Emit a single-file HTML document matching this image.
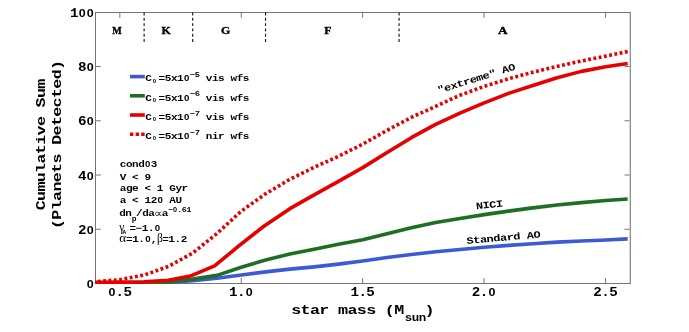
<!DOCTYPE html>
<html><head><meta charset="utf-8"><title>plot</title>
<style>
html,body{margin:0;padding:0;background:#fff;}
svg{display:block;will-change:transform;}
text{font-family:"Liberation Mono",monospace;font-weight:bold;fill:#000;}
.s{font-family:"Liberation Serif",serif;font-weight:normal;}
.sb{font-family:"Liberation Serif",serif;font-weight:bold;}
.z{font-family:"Liberation Sans",sans-serif;font-weight:bold;}
</style></head><body>
<svg width="689" height="332" viewBox="0 0 689 332">
<rect width="689" height="332" fill="#fff"/>
<defs><clipPath id="c"><rect x="95" y="12" width="540" height="271.9"/></clipPath></defs>

<g stroke="#767676" stroke-width="1" fill="none">
<path d="M95.5,12V284M95,12.5H630.7M95,283.5H630.7"/><path d="M630.22,12V284" stroke="#6a6a6a"/>
<path d="M119.85,283V278M119.85,13V17.8"/>
<path d="M241.25,283V278M241.25,13V17.8"/>
<path d="M362.65,283V278M362.65,13V17.8"/>
<path d="M484.05,283V278M484.05,13V17.8"/>
<path d="M605.45,283V278M605.45,13V17.8"/>
<path d="M96,229.25H100.8M629.5,229.25H624.5"/>
<path d="M96,175.00H100.8M629.5,175.00H624.5"/>
<path d="M96,120.75H100.8M629.5,120.75H624.5"/>
<path d="M96,66.50H100.8M629.5,66.50H624.5"/>
</g>
<g stroke="#111" stroke-width="1.12" stroke-dasharray="2.9 2.42">
<path d="M144.13,12.5V42.3"/>
<path d="M192.69,12.5V42.3"/>
<path d="M265.53,12.5V42.3"/>
<path d="M399.07,12.5V42.3"/>
</g>
<g fill="none" stroke-linejoin="round" clip-path="url(#c)">
<path d="M93.07,283.20 L119.79,283.12 L144.09,282.93 L168.38,282.39 L192.68,280.77 L216.97,278.20 L241.27,274.96 L265.56,271.86 L289.86,269.16 L314.15,266.87 L338.45,264.16 L362.75,260.93 L387.04,257.55 L411.34,254.58 L435.63,251.74 L459.92,249.45 L484.22,247.29 L508.52,245.40 L532.81,243.78 L557.11,242.16 L581.40,240.94 L605.69,240.00 L627.68,238.92" stroke="#3c5ad2" stroke-width="3.6"/>
<path d="M93.07,283.20 L119.79,283.06 L144.09,282.80 L168.38,281.85 L192.68,279.15 L216.97,275.37 L241.27,267.27 L265.56,259.98 L289.86,254.04 L314.15,249.18 L338.45,244.32 L362.75,239.73 L387.04,233.65 L411.34,227.85 L435.63,222.58 L459.92,218.40 L484.22,214.62 L508.52,211.11 L532.81,207.87 L557.11,205.03 L581.40,202.60 L605.69,200.58 L627.68,198.96" stroke="#1e6e23" stroke-width="3.6"/>
<path d="M93.07,282.39 L119.79,282.12 L144.09,281.85 L168.38,280.23 L190.25,276.05 L214.55,265.92 L238.84,245.94 L263.14,226.77 L289.86,208.68 L314.15,194.91 L338.45,181.41 L362.75,167.64 L387.04,152.52 L411.34,137.67 L435.63,124.44 L459.92,113.10 L484.22,102.84 L508.52,93.39 L532.81,85.42 L557.11,77.73 L581.40,71.38 L605.69,66.66 L627.68,63.42" stroke="#e60000" stroke-width="3.6"/>
<path d="M93.07,281.85 L119.79,279.69 L144.09,275.10 L168.38,266.46 L192.68,253.09 L216.97,233.52 L241.27,211.11 L265.56,193.83 L289.86,179.25 L314.15,167.37 L338.45,156.30 L362.75,144.15 L387.04,130.38 L411.34,117.42 L435.63,106.35 L459.92,95.28 L484.22,86.37 L508.52,78.81 L532.81,72.19 L557.11,66.39 L581.40,60.99 L605.69,56.13 L627.68,51.54" stroke="#e60000" stroke-width="3.6" stroke-dasharray="2.9 2.45" stroke-dashoffset="0.58"/>
</g>
<g transform="translate(119.85,296.20)"><text class="z" transform="translate(-7.98,0) scale(1.131,1)" font-size="11.05" text-anchor="middle">0</text><text x="-4.27 3.71" y="0" font-size="14.23" transform="scale(1,0.860)">.5</text></g>
<g transform="translate(241.25,296.20)"><text x="-12.25 -4.27" y="0" font-size="14.23" transform="scale(1,0.860)">1.</text><text class="z" transform="translate(7.98,0) scale(1.131,1)" font-size="11.05" text-anchor="middle">0</text></g>
<g transform="translate(362.65,296.20)"><text x="-12.25 -4.27 3.71" y="0" font-size="14.23" transform="scale(1,0.860)">1.5</text></g>
<g transform="translate(484.05,296.20)"><text x="-12.25 -4.27" y="0" font-size="14.23" transform="scale(1,0.860)">2.</text><text class="z" transform="translate(7.98,0) scale(1.131,1)" font-size="11.05" text-anchor="middle">0</text></g>
<g transform="translate(605.45,296.20)"><text x="-12.25 -4.27 3.71" y="0" font-size="14.23" transform="scale(1,0.860)">2.5</text></g>
<g transform="translate(94.20,288.10)"><text class="z" transform="translate(-3.99,0) scale(1.131,1)" font-size="11.05" text-anchor="middle">0</text></g>
<g transform="translate(94.20,233.85)"><text x="-16.24" y="0" font-size="14.23" transform="scale(1,0.860)">2</text><text class="z" transform="translate(-3.99,0) scale(1.131,1)" font-size="11.05" text-anchor="middle">0</text></g>
<g transform="translate(94.20,179.60)"><text x="-16.24" y="0" font-size="14.23" transform="scale(1,0.860)">4</text><text class="z" transform="translate(-3.99,0) scale(1.131,1)" font-size="11.05" text-anchor="middle">0</text></g>
<g transform="translate(94.20,125.35)"><text x="-16.24" y="0" font-size="14.23" transform="scale(1,0.860)">6</text><text class="z" transform="translate(-3.99,0) scale(1.131,1)" font-size="11.05" text-anchor="middle">0</text></g>
<g transform="translate(94.20,71.10)"><text x="-16.24" y="0" font-size="14.23" transform="scale(1,0.860)">8</text><text class="z" transform="translate(-3.99,0) scale(1.131,1)" font-size="11.05" text-anchor="middle">0</text></g>
<g transform="translate(94.20,16.85)"><text x="-24.22" y="0" font-size="14.23" transform="scale(1,0.860)">1</text><text class="z" transform="translate(-11.97,0) scale(1.131,1)" font-size="11.05" text-anchor="middle">0</text><text class="z" transform="translate(-3.99,0) scale(1.131,1)" font-size="11.05" text-anchor="middle">0</text></g>
<text class="sb" transform="translate(117,33.7) scale(0.95,1)" font-size="10.6" text-anchor="middle" stroke="#000" stroke-width="0.35">M</text>
<text class="sb" transform="translate(166.2,33.7) scale(1.12,1)" font-size="10.6" text-anchor="middle" stroke="#000" stroke-width="0.35">K</text>
<text class="sb" transform="translate(225.7,33.7) scale(1.12,1)" font-size="10.6" text-anchor="middle" stroke="#000" stroke-width="0.35">G</text>
<text class="sb" transform="translate(328,33.7) scale(1.12,1)" font-size="10.6" text-anchor="middle" stroke="#000" stroke-width="0.35">F</text>
<text class="sb" transform="translate(502.8,33.7) scale(1.25,1)" font-size="10.6" text-anchor="middle" stroke="#000" stroke-width="0.35">A</text>
<g transform="translate(291.60,313.90)"><text x="-0.33 9.03 18.39 27.75" y="0" font-size="16.69" transform="scale(1,0.804)">star</text><text x="46.47 55.83 65.19 74.55" y="0" font-size="16.69" transform="scale(1,0.804)">mass</text><text x="93.27 102.63" y="0" font-size="16.69" transform="scale(1,0.804)">(M</text></g>
<g transform="translate(405.00,320.90)"><text x="-0.25 6.77 13.79" y="0" font-size="12.52" transform="scale(1,0.804)">sun</text></g>
<g transform="translate(424.80,313.90)"><text x="-0.33" y="0" font-size="16.69" transform="scale(1,0.804)">)</text></g>
<g transform="translate(45.20,144.50) rotate(-90)"><text x="-65.85 -56.49 -47.13 -37.77 -28.41 -19.05 -9.69 -0.33 9.03 18.39" y="0" font-size="16.69" transform="scale(1,0.804)">Cumulative</text><text x="37.11 46.47 55.83" y="0" font-size="16.69" transform="scale(1,0.804)">Sum</text></g>
<g transform="translate(60.80,144.50) rotate(-90)"><text x="-84.57 -75.21 -65.85 -56.49 -47.13 -37.77 -28.41 -19.05" y="0" font-size="16.69" transform="scale(1,0.804)">(Planets</text><text x="-0.33 9.03 18.39 27.75 37.11 46.47 55.83 65.19 74.55" y="0" font-size="16.69" transform="scale(1,0.804)">Detected)</text></g>
<path d="M130,76.6H144.8" stroke="#3c5ad2" stroke-width="3.6"/>
<g transform="translate(145.50,81.40)"><text x="-0.22" y="0" font-size="11.02" transform="scale(1,0.804)">C</text></g>
<g transform="translate(152.50,82.70)"><text class="z" transform="translate(1.89,0) scale(1.106,1)" font-size="5.35" text-anchor="middle">0</text></g>
<g transform="translate(158.80,81.40)"><text x="-0.22 5.96 12.14 18.32" y="0" font-size="11.02" transform="scale(1,0.804)">=5x1</text><text class="z" transform="translate(27.81,0) scale(1.106,1)" font-size="8.76" text-anchor="middle">0</text></g>
<g transform="translate(189.90,77.20)"><text x="-0.17 4.75" y="0" font-size="8.77" transform="scale(1,0.804)">−5</text></g>
<g transform="translate(206.00,81.40)"><text x="-0.22 5.96 12.14" y="0" font-size="11.02" transform="scale(1,0.804)">vis</text><text x="24.50 30.68 36.86" y="0" font-size="11.02" transform="scale(1,0.804)">wfs</text></g>
<path d="M130,95.8H144.8" stroke="#1e6e23" stroke-width="3.6"/>
<g transform="translate(145.50,100.60)"><text x="-0.22" y="0" font-size="11.02" transform="scale(1,0.804)">C</text></g>
<g transform="translate(152.50,101.90)"><text class="z" transform="translate(1.89,0) scale(1.106,1)" font-size="5.35" text-anchor="middle">0</text></g>
<g transform="translate(158.80,100.60)"><text x="-0.22 5.96 12.14 18.32" y="0" font-size="11.02" transform="scale(1,0.804)">=5x1</text><text class="z" transform="translate(27.81,0) scale(1.106,1)" font-size="8.76" text-anchor="middle">0</text></g>
<g transform="translate(189.90,96.40)"><text x="-0.17 4.75" y="0" font-size="8.77" transform="scale(1,0.804)">−6</text></g>
<g transform="translate(206.00,100.60)"><text x="-0.22 5.96 12.14" y="0" font-size="11.02" transform="scale(1,0.804)">vis</text><text x="24.50 30.68 36.86" y="0" font-size="11.02" transform="scale(1,0.804)">wfs</text></g>
<path d="M130,115.0H144.8" stroke="#e60000" stroke-width="3.6"/>
<g transform="translate(145.50,119.80)"><text x="-0.22" y="0" font-size="11.02" transform="scale(1,0.804)">C</text></g>
<g transform="translate(152.50,121.10)"><text class="z" transform="translate(1.89,0) scale(1.106,1)" font-size="5.35" text-anchor="middle">0</text></g>
<g transform="translate(158.80,119.80)"><text x="-0.22 5.96 12.14 18.32" y="0" font-size="11.02" transform="scale(1,0.804)">=5x1</text><text class="z" transform="translate(27.81,0) scale(1.106,1)" font-size="8.76" text-anchor="middle">0</text></g>
<g transform="translate(189.90,115.60)"><text x="-0.17 4.75" y="0" font-size="8.77" transform="scale(1,0.804)">−7</text></g>
<g transform="translate(206.00,119.80)"><text x="-0.22 5.96 12.14" y="0" font-size="11.02" transform="scale(1,0.804)">vis</text><text x="24.50 30.68 36.86" y="0" font-size="11.02" transform="scale(1,0.804)">wfs</text></g>
<path d="M130,134.2H144.8" stroke="#e60000" stroke-width="3.6" stroke-dasharray="3.4 2.2"/>
<g transform="translate(145.50,139.00)"><text x="-0.22" y="0" font-size="11.02" transform="scale(1,0.804)">C</text></g>
<g transform="translate(152.50,140.30)"><text class="z" transform="translate(1.89,0) scale(1.106,1)" font-size="5.35" text-anchor="middle">0</text></g>
<g transform="translate(158.80,139.00)"><text x="-0.22 5.96 12.14 18.32" y="0" font-size="11.02" transform="scale(1,0.804)">=5x1</text><text class="z" transform="translate(27.81,0) scale(1.106,1)" font-size="8.76" text-anchor="middle">0</text></g>
<g transform="translate(189.90,134.80)"><text x="-0.17 4.75" y="0" font-size="8.77" transform="scale(1,0.804)">−7</text></g>
<g transform="translate(206.00,139.00)"><text x="-0.22 5.96 12.14" y="0" font-size="11.02" transform="scale(1,0.804)">nir</text><text x="24.50 30.68 36.86" y="0" font-size="11.02" transform="scale(1,0.804)">wfs</text></g>
<g transform="translate(120.00,166.90)"><text x="-0.22 5.96 12.14 18.32" y="0" font-size="11.02" transform="scale(1,0.804)">cond</text><text class="z" transform="translate(27.81,0) scale(1.106,1)" font-size="8.76" text-anchor="middle">0</text><text x="30.68" y="0" font-size="11.02" transform="scale(1,0.804)">3</text></g>
<g transform="translate(120.00,179.50)"><text x="-0.22" y="0" font-size="11.02" transform="scale(1,0.804)">V</text><text x="12.14" y="0" font-size="11.02" transform="scale(1,0.804)">&lt;</text><text x="24.50" y="0" font-size="11.02" transform="scale(1,0.804)">9</text></g>
<g transform="translate(120.00,191.30)"><text x="-0.22 5.96 12.14" y="0" font-size="11.02" transform="scale(1,0.804)">age</text><text x="24.50" y="0" font-size="11.02" transform="scale(1,0.804)">&lt;</text><text x="36.86" y="0" font-size="11.02" transform="scale(1,0.804)">1</text><text x="49.22 55.40 61.58" y="0" font-size="11.02" transform="scale(1,0.804)">Gyr</text></g>
<g transform="translate(120.00,203.00)"><text x="-0.22" y="0" font-size="11.02" transform="scale(1,0.804)">a</text><text x="12.14" y="0" font-size="11.02" transform="scale(1,0.804)">&lt;</text><text x="24.50 30.68" y="0" font-size="11.02" transform="scale(1,0.804)">12</text><text class="z" transform="translate(40.17,0) scale(1.106,1)" font-size="8.76" text-anchor="middle">0</text><text x="49.22 55.40" y="0" font-size="11.02" transform="scale(1,0.804)">AU</text></g>
<g transform="translate(119.40,216.30)"><text x="-0.22 5.96" y="0" font-size="11.02" transform="scale(1,0.804)">dn</text></g>
<g transform="translate(131.90,220.50)"><text x="-0.16" y="0" font-size="8.03" transform="scale(1,0.804)">p</text></g>
<g transform="translate(136.20,216.30)"><text x="-0.22 5.96 12.14" y="0" font-size="11.02" transform="scale(1,0.804)">/da</text></g>
<text class="s" transform="translate(153.5,216.60000000000002) scale(1.12,1)" font-size="10.8">∝</text>
<g transform="translate(161.90,216.30)"><text x="-0.22" y="0" font-size="11.02" transform="scale(1,0.804)">a</text></g>
<g transform="translate(168.00,211.80)"><text x="-0.16" y="0" font-size="8.35" transform="scale(1,0.804)">−</text><text class="z" transform="translate(7.02,0) scale(1.106,1)" font-size="6.63" text-anchor="middle">0</text><text x="9.20 13.88 18.56" y="0" font-size="8.35" transform="scale(1,0.804)">.61</text></g>
<text class="s" x="119.3" y="230.7" font-size="11.5">γ</text>
<g transform="translate(122.60,233.70)"><text x="-0.12" y="0" font-size="5.99" transform="scale(1,0.804)">A</text></g>
<g transform="translate(129.60,230.70)"><text x="-0.22 5.96 12.14 18.32" y="0" font-size="11.02" transform="scale(1,0.804)">=−1.</text><text class="z" transform="translate(27.81,0) scale(1.106,1)" font-size="8.76" text-anchor="middle">0</text></g>
<text class="s" transform="translate(119.2,241.9) scale(1.13,1)" font-size="11.5">α</text>
<g transform="translate(126.20,241.90)"><text x="-0.22 5.96 12.14" y="0" font-size="11.02" transform="scale(1,0.804)">=1.</text><text class="z" transform="translate(21.63,0) scale(1.106,1)" font-size="8.76" text-anchor="middle">0</text><text x="24.50" y="0" font-size="11.02" transform="scale(1,0.804)">,</text></g>
<text class="s" x="157.0" y="241.9" font-size="11.5">β</text>
<g transform="translate(162.40,241.90)"><text x="-0.22 5.96 12.14 18.32" y="0" font-size="11.02" transform="scale(1,0.804)">=1.2</text></g>
<g transform="translate(438.80,93.30) rotate(-17.2)"><text x="-0.24 6.48 13.20 19.92 26.64 33.36 40.08 46.80 53.52" y="0" font-size="11.98" transform="scale(1,0.804)">&quot;extreme&quot;</text><text x="66.96 73.68" y="0" font-size="11.98" transform="scale(1,0.804)">AO</text></g>
<g transform="translate(476.50,209.30) rotate(-6)"><text x="-0.24 6.48 13.20 19.92" y="0" font-size="11.98" transform="scale(1,0.804)">NICI</text></g>
<g transform="translate(467.00,243.90) rotate(-5)"><text x="-0.24 6.48 13.20 19.92 26.64 33.36 40.08 46.80" y="0" font-size="11.98" transform="scale(1,0.804)">Standard</text><text x="60.24 66.96" y="0" font-size="11.98" transform="scale(1,0.804)">AO</text></g>
</svg></body></html>
